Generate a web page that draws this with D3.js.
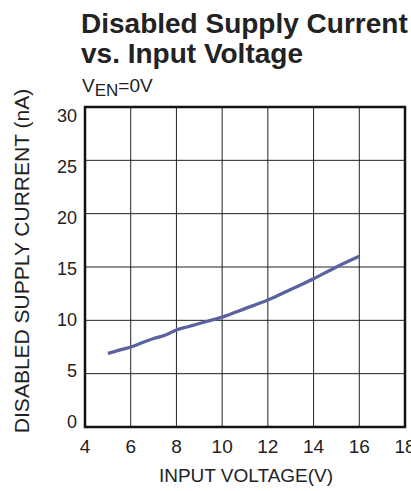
<!DOCTYPE html>
<html>
<head>
<meta charset="utf-8" />
<script src="https://cdnjs.cloudflare.com/ajax/libs/d3/7.8.5/d3.min.js"></script>
<style>
    body { margin: 0; background: #fff; }
    svg { display: block; font-family: "Liberation Sans", Arial, sans-serif; }
    .grid line { stroke: #222; stroke-width: 1; }
    .tick-label { fill: #222; }
</style>
</head>
<body>
<div id="chart"></div>
<script>
    // values
    const voltage = [5, 5.5, 6, 6.5, 7, 7.5, 8, 8.5, 9, 9.5, 10, 11, 12, 13, 14, 15, 16]
    const current = [6.9, 7.2, 7.5, 7.9, 8.3, 8.6, 9.1, 9.4, 9.7, 10.0, 10.3, 11.1, 11.9, 12.9, 13.9, 15.0, 16.0]
    const xTicks = [4, 6, 8, 10, 12, 14, 16, 18]
    const yTicks = [0, 5, 10, 15, 20, 25, 30]

    const width = 411, height = 491
    const margin = { left: 85, right: 6, top: 107, bottom: 64 }

    const svg = d3.select('#chart')
        .append('svg')
        .attr('width', width)
        .attr('height', height)

    let xScale = d3.scaleLinear()
        .domain([4, 18])
        .range([margin.left, width - margin.right])
    let yScale = d3.scaleLinear()
        .domain([0, 30])
        .range([height - margin.bottom, margin.top])
    // the printed y labels sit on a slightly tighter spacing than the grid
    let yLabelScale = d3.scaleLinear()
        .domain([0, 30])
        .range([421, 115])

    // title
    svg.append('text')
        .attr('x', 81).attr('y', 33)
        .style('font-size', '28px').style('font-weight', 'bold').attr('fill', '#222')
        .text('Disabled Supply Current')
    svg.append('text')
        .attr('x', 81).attr('y', 63)
        .style('font-size', '28px').style('font-weight', 'bold').attr('fill', '#222')
        .text('vs. Input Voltage')

    const sub = svg.append('text')
        .attr('x', 82).attr('y', 92)
        .style('font-size', '19px').attr('fill', '#222')
    sub.append('tspan').text('V')
    sub.append('tspan').attr('dy', 4).style('font-size', '17px').text('EN')
    sub.append('tspan').attr('dy', -4).text('=0V')

    // grid
    const grid = svg.append('g').attr('class', 'grid')
    grid.selectAll('.vx')
        .data(xTicks.slice(1, -1))
        .enter().append('line')
        .attr('x1', d => xScale(d)).attr('x2', d => xScale(d))
        .attr('y1', yScale(0)).attr('y2', yScale(30))
    grid.selectAll('.hy')
        .data(yTicks.slice(1, -1))
        .enter().append('line')
        .attr('x1', xScale(4)).attr('x2', xScale(18))
        .attr('y1', d => yScale(d)).attr('y2', d => yScale(d))

    // frame
    svg.append('rect')
        .attr('x', xScale(4)).attr('y', yScale(30))
        .attr('width', xScale(18) - xScale(4))
        .attr('height', yScale(0) - yScale(30))
        .attr('fill', 'none').attr('stroke', '#111').attr('stroke-width', 2.5)

    // tick labels
    svg.selectAll('.xl')
        .data(xTicks)
        .enter().append('text')
        .attr('class', 'tick-label')
        .style('font-size', '19px')
        .attr('x', d => xScale(d)).attr('y', 453)
        .attr('text-anchor', 'middle')
        .text(d => d)
    svg.selectAll('.yl')
        .data(yTicks)
        .enter().append('text')
        .attr('class', 'tick-label')
        .style('font-size', '18px')
        .attr('x', 77).attr('y', d => yLabelScale(d) + 6.5)
        .attr('text-anchor', 'end')
        .text(d => d)

    // axis titles
    svg.append('text')
        .attr('x', 246).attr('y', 482)
        .attr('text-anchor', 'middle')
        .style('font-size', '19px').attr('fill', '#222')
        .text('INPUT VOLTAGE(V)')
    svg.append('text')
        .attr('transform', 'translate(29,' + 261 + ') rotate(-90)')
        .attr('text-anchor', 'middle')
        .style('font-size', '21px').attr('fill', '#222')
        .text('DISABLED SUPPLY CURRENT (nA)')

    // curve
    const line = d3.line()
        .x((d, i) => xScale(voltage[i]))
        .y(d => yScale(d))
        .curve(d3.curveMonotoneX)
    svg.append('path')
        .datum(current)
        .attr('d', line)
        .attr('fill', 'none')
        .attr('stroke', '#5a62a0')
        .attr('stroke-width', 3.3)
</script>
</body>
</html>
